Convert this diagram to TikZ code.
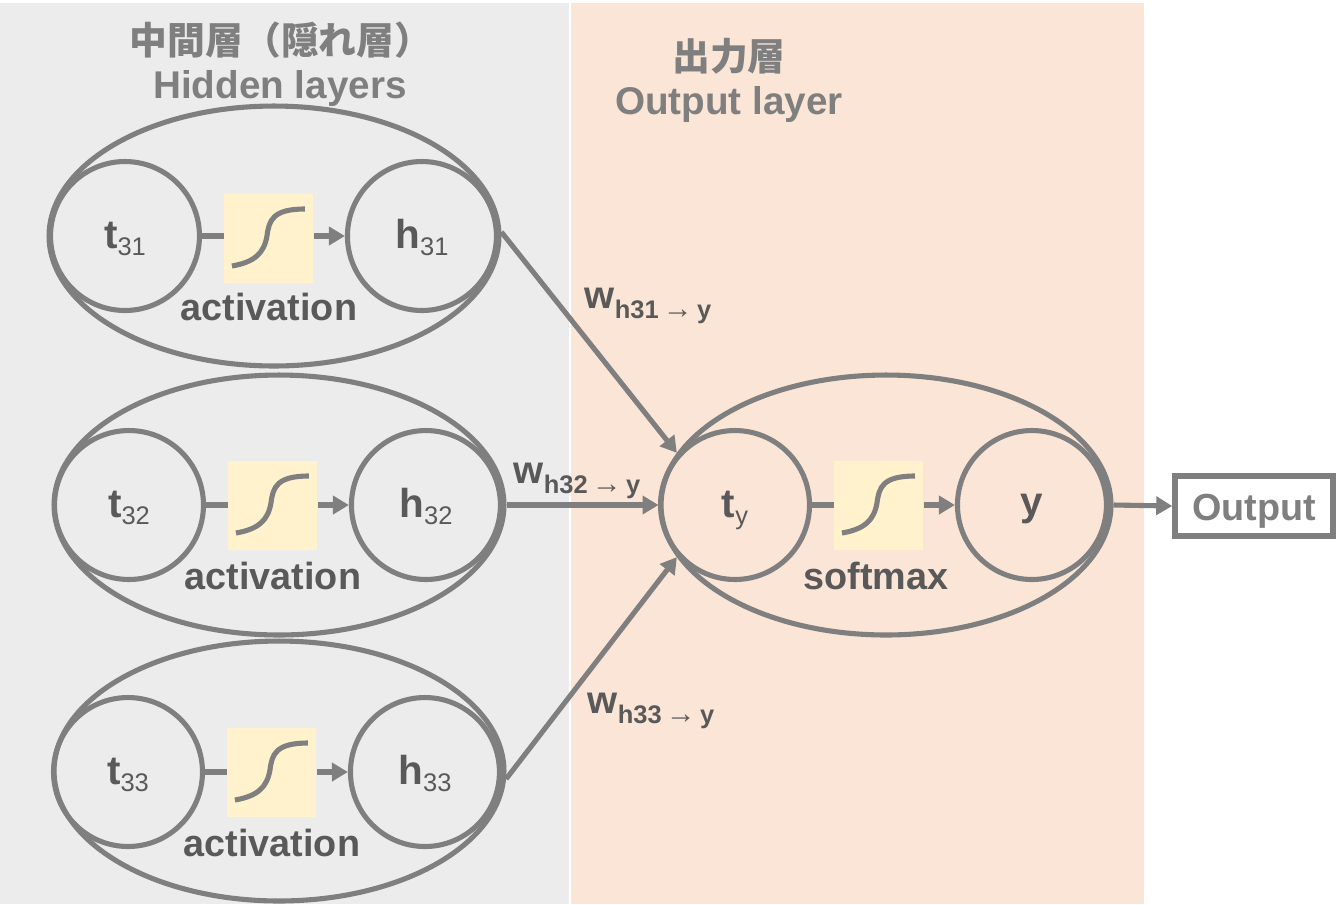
\documentclass[tikz,border=0pt]{standalone}
\usepackage{xcolor}
\usepackage{fontspec}
\setmainfont{Liberation Sans}
\newfontfamily\cjk{Noto Sans CJK JP}
\usepackage{tikz}
\usetikzlibrary{shapes.geometric, arrows.meta}
\definecolor{linegray}{HTML}{7F7F7F}
\definecolor{textgray}{HTML}{595959}
\definecolor{hiddenbg}{HTML}{ECECEC}
\definecolor{outputbg}{HTML}{FBE5D6}
\definecolor{actbg}{HTML}{FFF2CC}
\tikzstyle{panel} = [rectangle, minimum height=18.02cm, inner sep=0pt]
\tikzstyle{unit} = [ellipse, minimum width=9cm, minimum height=5.2cm, inner sep=0pt, draw=linegray, line width=2.9pt]
\tikzstyle{cell} = [circle, minimum size=2.98cm, inner sep=0pt, draw=linegray, line width=2.9pt, text=textgray, text height=0.6cm, text depth=0.12cm, font=\bfseries\fontsize{23}{23}\selectfont]
\tikzstyle{actbox} = [rectangle, minimum width=1.78cm, minimum height=1.78cm, inner sep=0pt, fill=actbg]
\tikzstyle{actlabel} = [text=textgray, font=\bfseries\fontsize{21.5}{21.5}\selectfont]
\tikzstyle{title} = [text=linegray, font=\bfseries\fontsize{22}{24}\selectfont]
\tikzstyle{titlejp} = [text=linegray, font=\bfseries\fontsize{21.5}{24}\selectfont]
\tikzstyle{weight} = [text=textgray, font=\bfseries\fontsize{22}{22}\selectfont]
\tikzstyle{outbox} = [rectangle, minimum width=3.16cm, minimum height=1.2cm, inner sep=0pt, draw=linegray, line width=3.2pt, text=linegray, text height=0.7cm, text depth=0.14cm, font=\bfseries\fontsize{21.5}{21.5}\selectfont]
\tikzstyle{arrow} = [line width=2.9pt,draw=linegray,-{Triangle[length=0.32cm,width=0.36cm]}]
\tikzstyle{link} = [line width=2.9pt,draw=linegray]
\tikzstyle{curve} = [line width=2.9pt,draw=linegray]
\newcommand{\cellsub}[1]{\raisebox{-4pt}{\mdseries\fontsize{14.5}{14.5}\selectfont #1}}
\newcommand{\weightsub}[1]{\raisebox{-6pt}{\fontsize{14.5}{14.5}\selectfont #1\,{\mdseries\fontsize{17}{17}\selectfont\textrightarrow}\,y}}
\newcommand{\sigmoid}[1]{\draw [curve,shift={(#1.center)}] (-37,28) .. controls (-14,24) and (-5,15) .. (-2,-2) .. controls (0,-18) and (4,-29) .. (36,-29);}
\begin{document}
\begin{tikzpicture}[x=0.02cm,y=-0.02cm,node distance=2.88cm]
	\useasboundingbox (0,0) rectangle (1337,904);
	\node (hiddenpanel) [panel,fill=hiddenbg,minimum width=11.38cm] at (284.5,453.5) {};
	\node (outputpanel) [panel,fill=outputbg,minimum width=11.46cm] at (857.5,453.5) {};
	\node (hiddenjp) [titlejp] at (281,40) {\cjk 中間層（隠れ層）};
	\node (hiddenen) [title] at (280,88) {Hidden layers};
	\node (outputjp) [titlejp] at (729,56) {\cjk 出力層};
	\node (outputen) [title] at (729,104) {Output layer};
	% hidden units
	\node (unit31) [unit] at (274,236) {};
	\node (t31) [cell] at (125,236) {t\cellsub{31}};
	\node (act31) [actbox,right of=t31,yshift=-0.04cm] {};
	\node (h31) [cell,right of=act31,xshift=0.18cm,yshift=0.04cm] {h\cellsub{31}};
	\node (lab31) [actlabel,below of=act31,yshift=1.5cm] {activation};
	\node (unit32) [unit] at (279,505) {};
	\node (t32) [cell] at (129,505) {t\cellsub{32}};
	\node (act32) [actbox,right of=t32] {};
	\node (h32) [cell,right of=act32,xshift=0.18cm] {h\cellsub{32}};
	\node (lab32) [actlabel,below of=act32,yshift=1.46cm] {activation};
	\node (unit33) [unit] at (279,771) {};
	\node (t33) [cell] at (128,772) {t\cellsub{33}};
	\node (act33) [actbox,right of=t33] {};
	\node (h33) [cell,right of=act33,xshift=0.18cm] {h\cellsub{33}};
	\node (lab33) [actlabel,below of=act33,yshift=1.46cm] {activation};
	% output unit
	\node (unity) [unit] at (886,505) {};
	\node (ty) [cell] at (735,505) {t\cellsub{y}};
	\node (acty) [actbox,right of=ty] {};
	\node (y) [cell,right of=acty,xshift=0.18cm,text height=0.54cm] {y};
	\node (laby) [actlabel,below of=acty,xshift=-0.06cm,yshift=1.46cm] {softmax};
	\node (output) [outbox] at (1254,506) {Output\hspace{3pt}};
	\node (w31) [weight] at (648,306) {w\weightsub{h31}};
	\node (w32) [weight] at (577,481) {w\weightsub{h32}};
	\node (w33) [weight] at (651,711) {w\weightsub{h33}};
	\sigmoid{act31}
	\sigmoid{act32}
	\sigmoid{act33}
	\sigmoid{acty}
	\draw [link] (t31) -- (act31.west |- t31);
	\draw [arrow] (act31.east |- h31) -- (h31);
	\draw [link] (t32) -- (act32);
	\draw [arrow] (act32) -- (h32);
	\draw [link] (t33) -- (act33);
	\draw [arrow] (act33) -- (h33);
	\draw [link] (ty) -- (acty);
	\draw [arrow] (acty) -- (y);
	\draw [arrow] (unit31.1) -- (unity.166);
	\draw [arrow] (unit32.east) -- (unity.west);
	\draw [arrow] (unit33.-2) -- (unity.194);
	\draw [arrow] (unity.east) -- (output.west);
\end{tikzpicture}
\end{document}
